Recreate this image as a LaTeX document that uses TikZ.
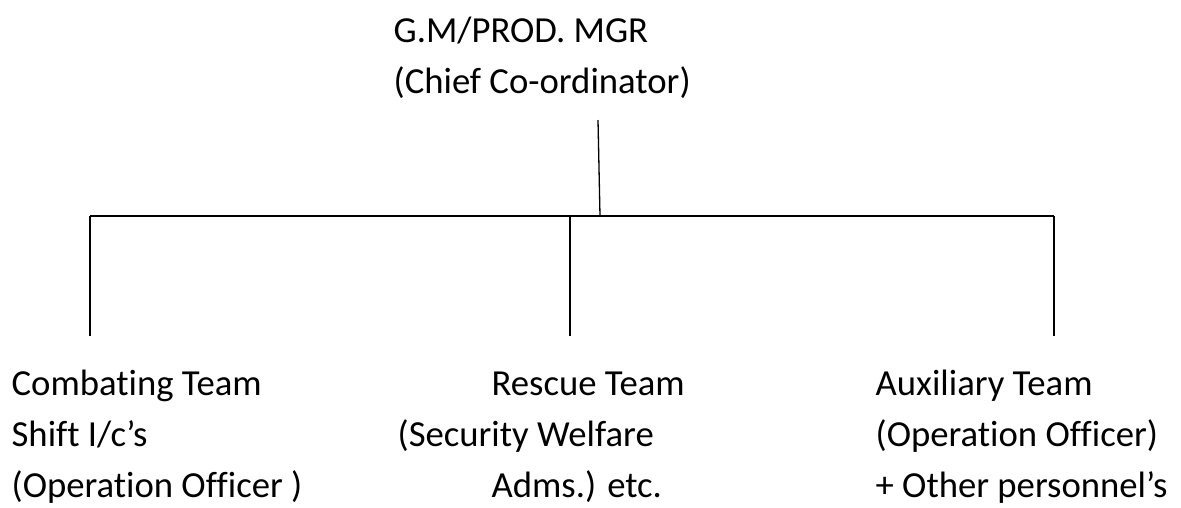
\documentclass[tikz,border=0pt]{standalone}
\usepackage{fontspec}
\setmainfont[Ligatures=NoCommon]{Carlito}
\usetikzlibrary{positioning}

\begin{document}
\begin{tikzpicture}[
    x=1pt, y=-1pt,
    line width=1.3pt,
    team/.style={anchor=base west, align=left, inner sep=0pt,
        font=\fontsize{36.7}{51}\selectfont},
]
\useasboundingbox (0,0) rectangle (1181,507);
% base anchor sits on the last line
\node[team] (chief) at (393,93) {G.M/PROD. MGR\\(Chief Co-ordinator)};
\node[team] (combat) at (11,497) {Combating Team\\Shift I/c’s\\(Operation Officer~)};
\node[team] (rescue) at (397,497) {\hspace*{94pt}Rescue Team\\(Security Welfare\\\hspace*{94pt}Adms.) etc.};
\node[team] (aux) at (875,497) {Auxiliary Team\\(Operation Officer)\\+ Other personnel’s};

% tree lines
\coordinate (chieftop) at (598,120);
\coordinate (chiefbar) at (600,216);
\coordinate (barleft) at (90,216);
\coordinate (barmid) at (570,216);
\coordinate (barright) at (1054,216);
\coordinate (combattop) at (90,336);
\coordinate (rescuetop) at (570,336);
\coordinate (auxtop) at (1054,336);
\draw (chieftop) -- (chiefbar);
\draw (barleft) -- (barright);
\draw (barleft) -- (combattop);
\draw (barmid) -- (rescuetop);
\draw (barright) -- (auxtop);
\end{tikzpicture}
\end{document}
